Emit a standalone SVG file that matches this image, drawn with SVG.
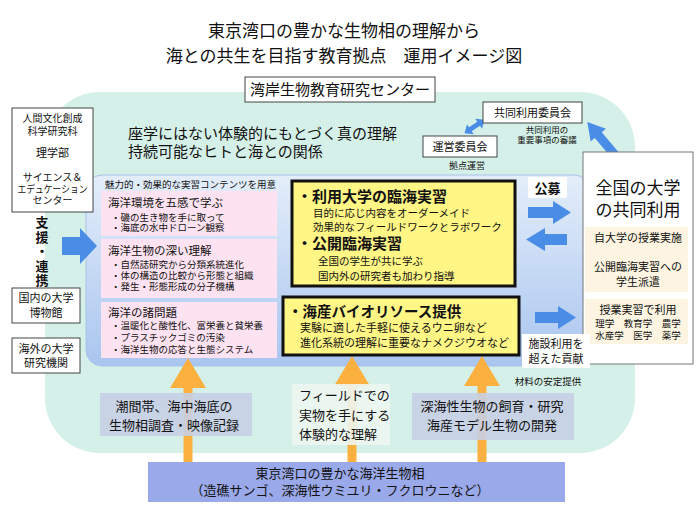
<svg xmlns="http://www.w3.org/2000/svg" width="700" height="519" viewBox="0 0 700 519">
<defs>
<linearGradient id="gBlue" x1="0" y1="0" x2="0" y2="1">
<stop offset="0" stop-color="#e4eefa"/>
<stop offset="1" stop-color="#a9c5ef"/>
</linearGradient>
</defs>
<style>
text{font-family:'Noto Sans CJK JP','Noto Sans CJK SC',sans-serif;fill:#111}
.c{text-anchor:middle}
.b{font-weight:bold}
.wb{fill:#fff;stroke:#444;stroke-width:1}
.pk{fill:#fde3f1}
.yl{fill:#fff685;stroke:#111;stroke-width:3}
.ba{fill:#4a8de6}
.oa{fill:#fbb03f}
.gb{fill:#c7cfe4;opacity:0.9}
.bg{fill:#fdf5e2}
</style>
<rect x="0" y="0" width="700" height="519" fill="#fff"/>
<g id="title">
<text class="c" font-size="17"><tspan x="344" y="37">東京湾口の豊かな生物相の理解から</tspan><tspan x="344" y="62">海との共生を目指す教育拠点　運用イメージ図</tspan></text>
</g>
<g id="center-area">
<rect x="45" y="92" width="590" height="361" rx="55" fill="#d5f0e8"/>
</g>
<g id="center-name">
<rect x="245" y="77" width="190" height="25" class="wb"/>
<text x="340" y="95" class="c" font-size="15">湾岸生物教育研究センター</text>
</g>
<g id="concept">
<text font-size="15"><tspan x="128" y="138.5">座学にはない体験的にもとづく真の理解</tspan><tspan x="128" y="156.5">持続可能なヒトと海との関係</tspan></text>
</g>
<g id="panel">
<rect x="86" y="175" width="504" height="191" rx="16" fill="url(#gBlue)" stroke="#a8c2e8" stroke-width="1"/>
<text x="105" y="187.5" font-size="9.5">魅力的・効果的な実習コンテンツを用意</text>
</g>
<g id="bottom-bar">
<rect x="148" y="462" width="417" height="40" fill="#9aa9e9"/>
<text class="c" font-size="13"><tspan x="340" y="478">東京湾口の豊かな海洋生物相</tspan><tspan x="340" y="495">（造礁サンゴ、深海性ウミユリ・フクロウニなど）</tspan></text>
</g>
<g id="connectors">
<path class="oa" d="M188,358 L206,388 H192.5 V462 H183.5 V388 H170 Z"/>
<path class="oa" d="M352,356 L370,386 H356.5 V462 H347.5 V386 H334 Z"/>
<path class="oa" d="M482,356 L500,386 H486.5 V462 H477.5 V386 H464 Z"/>
<path class="ba" d="M62,237 H80 V228 L97,246 L80,264 V255 H62 Z"/>
<path class="ba" d="M-12,0 L-5,-6 L-5,-2.5 L5,-2.5 L5,-6 L12,0 L5,6 L5,2.5 L-5,2.5 L-5,6 Z" transform="translate(474.5,126.5) rotate(-34)"/>
<path class="ba" d="M0,-4.5 L26,-4.5 L26,-10 L43,0 L26,10 L26,4.5 L0,4.5 Z" transform="translate(615,155) rotate(-130)"/>
<path class="ba" d="M528,207 H553 V201 L571,212.5 L553,224 V218 H528 Z"/>
<path class="ba" d="M567,234 H545 V228 L526,239.5 L545,251 V245 H567 Z"/>
<path class="ba" d="M535,312 H558 V306 L576,317.5 L558,329 V323 H535 Z"/>
</g>
<g id="faculties">
<rect x="12" y="108" width="81" height="104" class="wb"/>
<text class="c" font-size="10"><tspan x="52.5" y="121.5">人間文化創成</tspan><tspan x="52.5" y="134.5">科学研究科</tspan><tspan x="52.5" y="157" font-size="11">理学部</tspan><tspan x="52.5" y="180.5">サイエンス＆</tspan><tspan x="52.5" y="192.5" textLength="70" lengthAdjust="spacingAndGlyphs">エデュケーション</tspan><tspan x="52.5" y="204">センター</tspan></text>
</g>
<g id="support">
<text x="42" y="216" class="b" font-size="13" writing-mode="vertical-rl" letter-spacing="1.5">支援・連携</text>
</g>
<g id="domestic">
<rect x="12" y="288" width="68" height="35" class="wb"/>
<text class="c" font-size="11"><tspan x="46" y="302">国内の大学</tspan><tspan x="46" y="317">博物館</tspan></text>
</g>
<g id="overseas">
<rect x="12" y="338" width="68" height="35" class="wb"/>
<text class="c" font-size="11"><tspan x="46" y="353">海外の大学</tspan><tspan x="46" y="367">研究機関</tspan></text>
</g>
<g id="content1">
<rect x="101" y="191" width="176" height="45" class="pk"/>
<text font-size="9.5"><tspan x="108" y="207" font-size="11.5">海洋環境を五感で学ぶ</tspan><tspan x="111" y="220.5">・磯の生き物を手に取って</tspan><tspan x="111" y="231">・海底の水中ドローン観察</tspan></text>
</g>
<g id="content2">
<rect x="101" y="239" width="176" height="59" class="pk"/>
<text font-size="9.5"><tspan x="108" y="255" font-size="11.5">海洋生物の深い理解</tspan><tspan x="111" y="267.5">・自然誌研究から分類系統進化</tspan><tspan x="111" y="278.5">・体の構造の比較から形態と組織</tspan><tspan x="111" y="290">・発生・形態形成の分子機構</tspan></text>
</g>
<g id="content3">
<rect x="101" y="302" width="176" height="56" class="pk"/>
<text font-size="9.5"><tspan x="108" y="317" font-size="11.5">海洋の諸問題</tspan><tspan x="111" y="328.5">・温暖化と酸性化、富栄養と貧栄養</tspan><tspan x="111" y="340.5">・プラスチックゴミの汚染</tspan><tspan x="111" y="352.5">・海洋生物の応答と生態システム</tspan></text>
</g>
<g id="practicum">
<rect x="292" y="181" width="223" height="105" class="yl"/>
<text font-size="10.5"><tspan x="297" y="201.5" class="b" font-size="15">・利用大学の臨海実習</tspan><tspan x="313" y="216.7">目的に応じ内容をオーダーメイド</tspan><tspan x="313" y="230.7">効果的なフィールドワークとラボワーク</tspan><tspan x="297" y="249" class="b" font-size="15">・公開臨海実習</tspan><tspan x="318" y="264.7">全国の学生が共に学ぶ</tspan><tspan x="318" y="279.7">国内外の研究者も加わり指導</tspan></text>
</g>
<g id="bioresource">
<rect x="283" y="297" width="236" height="58" class="yl"/>
<text font-size="11"><tspan x="288" y="317" class="b" font-size="14.5">・海産バイオリソース提供</tspan><tspan x="300" y="332">実験に適した手軽に使えるウニ卵など</tspan><tspan x="300" y="347">進化系統の理解に重要なナメクジウオなど</tspan></text>
</g>
<g id="joint-committee">
<rect x="483" y="102" width="99" height="21" class="wb"/>
<text x="532.5" y="116.5" class="c" font-size="11">共同利用委員会</text>
<text class="c" font-size="8.5"><tspan x="547" y="133">共同利用の</tspan><tspan x="547" y="143">重要事項の審議</tspan></text>
</g>
<g id="steering-committee">
<rect x="423" y="136" width="74" height="21" class="wb"/>
<text x="460" y="150.5" class="c" font-size="11">運営委員会</text>
<text x="467" y="169" class="c" font-size="9">拠点運営</text>
</g>
<g id="koubo">
<rect x="528" y="177" width="39" height="21" fill="#fff"/>
<text x="547.5" y="192.5" class="c b" font-size="13">公募</text>
</g>
<g id="nationwide">
<rect x="583" y="152" width="110" height="212" fill="#fff" stroke="#777" stroke-width="1"/>
<rect x="585" y="227" width="103" height="65" class="bg"/>
<rect x="585" y="299" width="103" height="45" class="bg"/>
<text class="c" font-size="17"><tspan x="638" y="194">全国の大学</tspan><tspan x="638" y="216">の共同利用</tspan></text>
<text class="c" font-size="11"><tspan x="638" y="242">自大学の授業実施</tspan><tspan x="638" y="271">公開臨海実習への</tspan><tspan x="638" y="286">学生派遣</tspan></text>
<text class="c" font-size="9.5"><tspan x="638" y="314" font-size="11">授業実習で利用</tspan><tspan x="638" y="326.5">理学　教育学　農学</tspan><tspan x="638" y="338.5">水産学　医学　薬学</tspan></text>
</g>
<g id="contribution">
<rect x="522" y="334" width="68" height="34" fill="#fff"/>
<text class="c" font-size="11"><tspan x="556" y="348">施設利用を</tspan><tspan x="556" y="363">超えた貢献</tspan></text>
</g>
<g id="material">
<text x="548" y="385" class="c" font-size="9.5">材料の安定提供</text>
</g>
<g id="survey">
<rect x="100" y="393" width="152" height="43" class="gb"/>
<text class="c" font-size="13"><tspan x="174" y="410.5">潮間帯、海中海底の</tspan><tspan x="174" y="429.5">生物相調査・映像記録</tspan></text>
</g>
<g id="field">
<rect x="292" y="384" width="98" height="61" fill="#eef6f1" opacity="0.9"/>
<text font-size="13"><tspan x="299" y="399.5">フィールドでの</tspan><tspan x="299" y="419.5">実物を手にする</tspan><tspan x="299" y="438.5">体験的な理解</tspan></text>
</g>
<g id="deepsea">
<rect x="412" y="393" width="162" height="47" class="gb"/>
<text class="c" font-size="13"><tspan x="492" y="410.5">深海性生物の飼育・研究</tspan><tspan x="492" y="429.5">海産モデル生物の開発</tspan></text>
</g>
</svg>
